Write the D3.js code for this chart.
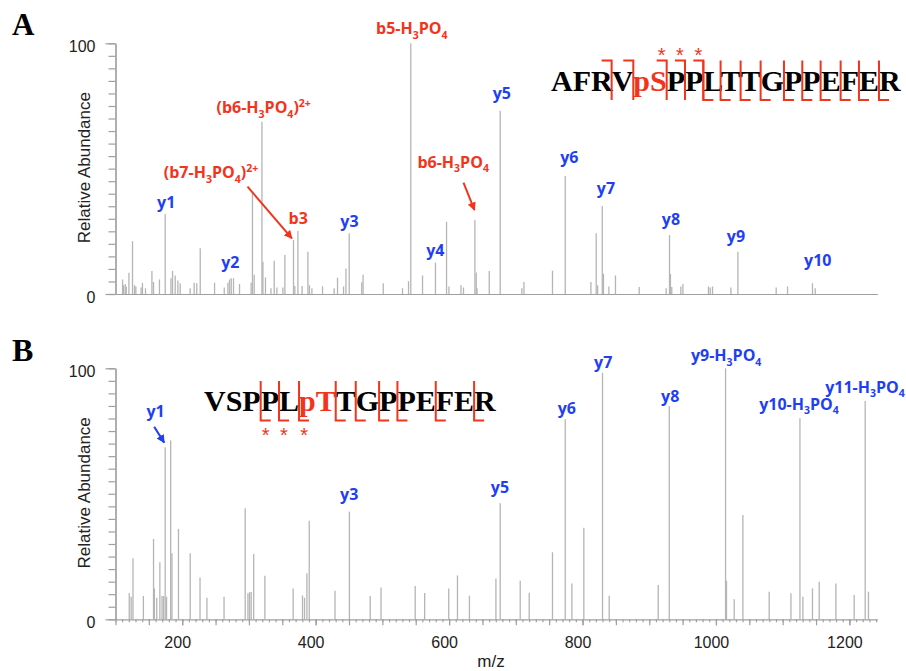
<!DOCTYPE html>
<html><head><meta charset="utf-8">
<script src="https://cdn.jsdelivr.net/npm/d3@7"></script>
<style>body{margin:0;background:#fff}svg{display:block}</style>
</head><body>
<svg id="c" width="906" height="671"></svg>
<script>
// ---------------- DATA ----------------
// Panel A: AFRVpSPPLTTGPPEFER spectrum
const mzA = [110.6,112.1,114.6,116.1,120.1,125.5,128.5,130.5,138.4,140.4,145,154.6,157,165.9,174.5,183.1,185.5,189.5,193.5,197,211.9,217.9,221.8,227,248.5,263,268.5,270.9,273.5,276.9,285.9,303.3,305.3,307.9,319.5,321,324.8,333,337.9,341.9,350.9,353.9,366.8,368.8,373.4,379.7,388.4,390.7,394.4,410.3,427.8,432.8,441.8,445.4,450.3,469.1,471.1,501.3,530.2,539.2,542.6,560.2,579.6,596.2,599.8,617.8,621.6,638.7,640.7,641.9,660.2,676.6,709.1,712.2,755,774.1,812.6,820.5,822.6,829.6,831.4,839.5,849.4,885,925.4,930.4,931.8,933.8,947.4,950.5,988.8,991.4,994.9,1022.4,1032.9,1090.3,1107.3,1144.7,1148.8];
const intA = [5.8,3.5,4.0,3.0,8.5,21.1,3.5,3.0,2.6,4.5,2.3,9.2,4.8,5.8,31.9,6.3,9.2,7.4,5.4,4.3,2.3,4.5,4.3,18.2,4.5,2.6,4.5,5.8,6.3,6.3,4.0,4.5,40.2,7.7,68.7,12.9,6.6,2.3,13.3,2.6,2.6,15.6,21.5,3.2,25.1,3.2,16.9,3.5,2.3,3.1,2.3,6.5,3.0,10.2,24.2,4.7,7.7,4.3,2.3,5.1,100,7.4,12.5,28.8,3.0,3.5,2.6,29.5,8.6,2.3,9.2,73.1,2.3,4.8,9.3,47.1,4.8,24.2,3.5,35.1,8.1,3.0,7.4,2.8,2.3,23.5,8.0,2.8,3.0,4.0,3.0,2.6,3.0,2.6,16.9,2.6,3.0,4.3,2.3];

// Panel B: VSPPLpTTGPPEFER spectrum
const mzB = [120.6,123.5,126.2,141.8,157,158.3,161.8,166.5,169.7,172,174.5,176.5,182.7,184.6,194.4,212,226.7,237,262.7,294.4,298.5,300.9,303.4,307.1,323.9,366.3,380.3,383.3,386.9,390.4,429,450.6,481.8,498,549.2,563.4,599.5,612.6,630.5,670.2,676.6,706.6,720.1,755,774.1,784.1,802,830,840,913.5,930,1014.4,1015.8,1027.4,1040.4,1079.8,1112.4,1125.9,1130.3,1144.7,1154.8,1179.8,1207.2,1223.7,1228.6];
const intB = [10.4,9.0,24.3,9.3,32,12.3,8.6,22.7,9.3,9.3,68.5,9.0,71.2,26.3,36,26.3,16.7,8.6,9.0,44.2,10.4,10.8,10.9,26,17.4,12.3,9.5,8.6,18.3,39.3,11.4,42.9,9.3,12.7,13.3,10.5,12.3,17.5,9.4,16.3,46.2,15.4,10.6,26.7,79.7,14.3,36.5,98.2,9.4,13.7,85,100,15.4,8.0,41.6,11.0,10.4,80.1,9.0,12.3,15.0,14.3,9.7,87,11.0];

// Annotations (text, ion type, label anchor m/z, label anchor intensity)
const annTextA = ["b5-H_3PO_4","(b6-H_3PO_4)^2+","(b7-H_3PO_4)^2+","b3","b6-H_3PO_4","y1","y2","y3","y4","y5","y6","y7","y8","y9","y10"];
const annTypeA = ["b","b","b","b","b","y","y","y","y","y","y","y","y","y","y"];
const annMzA   = [544.1,322.1,243.2,373.8,606.1,176,272,450.6,579.5,679.1,780.3,835.2,932.6,1030,1152.6];
const annIntA  = [103.7,72,46.1,27.9,50.3,34.3,10.2,26.7,15.2,77.8,52.3,39.7,27.5,20.9,11.0];
const arrowTypeA = ["b","b"];
const arrowFromMzA = [297.9,621.6], arrowFromIntA = [42.8,44.4];
const arrowToMzA   = [364.4,638.1], arrowToIntA   = [22.2,33.5];

const annTextB = ["y1","y3","y5","y6","y7","y8","y9-H_3PO_4","y10-H_3PO_4","y11-H_3PO_4"];
const annTypeB = ["y","y","y","y","y","y","y","y","y"];
const annMzB   = [160,450.3,676.3,776.6,831,931.4,1015.3,1124.5,1223.4];
const annIntB  = [80.4,47.5,50.3,81.8,100.1,86.6,102.9,83.4,90.2];
const arrowTypeB = ["y"];
const arrowFromMzB = [158], arrowFromIntB = [76.7];
const arrowToMzB   = [173], arrowToIntB   = [70.4];

// Peptide sequences and fragment cuts (number of residues before the cut)
const seqA = ["A","F","R","V","pS","P","P","L","T","T","G","P","P","E","F","E","R"];
const modA = [4];
const bCutsA = [3,4,5,6,7];
const bStarA = [5,6,7];
const yCutsA = [7,8,9,10,11,12,13,14,15,16];
const yStarA = [];
const seqB = ["V","S","P","P","L","pT","T","G","P","P","E","F","E","R"];
const modB = [5];
const bCutsB = [];
const bStarB = [];
const yCutsB = [3,4,5,6,7,8,9,11,13];
const yStarB = [3,4,5];

const xTicksB = [200,400,600,800,1000,1200];
const yTickLabels = [0,100];

// ---------------- DRAWING ----------------
const RED = "#f2341c", BLUE = "#1f3ff2", PEAK = "#b5b5b5", AXIS = "#a0a0a0";
const SANS = "'Liberation Sans', Arial, sans-serif";
const LAB = "'Open Sans', sans-serif";
const SERIF = "'Liberation Serif', 'Times New Roman', serif";
const LS = 16;
const svg = d3.select("#c");

const x = d3.scaleLinear().domain([100, 1242]).range([115.5, 877.4]);
const yA = d3.scaleLinear().domain([0, 100]).range([294, 43.3]);
const yB = d3.scaleLinear().domain([0, 100]).range([619.3, 368.3]);

svg.append("defs").selectAll("marker").data([["b",RED],["y",BLUE]]).join("marker")
  .attr("id", d => "ah-" + d[0]).attr("viewBox", "0 0 10 10").attr("refX", 9).attr("refY", 5)
  .attr("markerWidth", 4.2).attr("markerHeight", 4.2).attr("orient", "auto")
  .append("path").attr("d", "M0,0 L10,5 L0,10 z").attr("fill", d => d[1]);

function rich(textSel, str, size) {
  const re = /_(\d)|\^(.+)$/g;
  let last = 0, m; const parts = [];
  while ((m = re.exec(str))) {
    if (m.index > last) parts.push({t: str.slice(last, m.index), k: "n"});
    parts.push(m[1] ? {t: m[1], k: "sub"} : {t: m[2], k: "sup"});
    last = re.lastIndex;
  }
  if (last < str.length) parts.push({t: str.slice(last), k: "n"});
  let cur = 0;
  parts.forEach(p => {
    const target = p.k === "sub" ? 0.28 : p.k === "sup" ? -0.42 : 0;
    const ts = textSel.append("tspan").text(p.t);
    const dy = (target - cur) * size;
    if (dy) ts.attr("dy", dy);
    if (p.k !== "n") ts.attr("font-size", size * 0.66);
    cur = target;
  });
}

function panel(yS, mz, inten, withXAxis) {
  const g = svg.append("g");
  g.append("g").selectAll("line").data(d3.zip(mz, inten)).join("line")
    .attr("x1", d => x(d[0])).attr("x2", d => x(d[0]))
    .attr("y1", yS(0)).attr("y2", d => yS(d[1]))
    .attr("stroke", PEAK).attr("stroke-width", 1.3);
  const ax0 = x.range()[0];
  const ym = g.append("g").attr("transform", `translate(${ax0},0)`)
    .call(d3.axisLeft(yS).tickValues(d3.range(0, 101, 5)).tickSize(7).tickSizeOuter(0).tickFormat(""));
  const yM = g.append("g").attr("transform", `translate(${ax0},0)`)
    .call(d3.axisLeft(yS).tickValues(yTickLabels).tickSize(10).tickSizeOuter(0).tickPadding(10));
  [ym, yM].forEach(s => { s.selectAll("path,line").attr("stroke", AXIS).attr("stroke-width", 1.2); });
  yM.selectAll("text").attr("font-family", SANS).attr("font-size", 16).attr("fill", "#222")
    .attr("transform", "translate(0,3)");
  const xg = g.append("g").attr("transform", `translate(0,${yS(0)})`);
  if (!withXAxis) {
    xg.call(d3.axisBottom(x).tickValues([]).tickSizeOuter(0));
  } else {
    xg.call(d3.axisBottom(x).tickValues(d3.range(100, 1241, 10)).tickSize(3).tickSizeOuter(0).tickFormat(""));
    const xg2 = g.append("g").attr("transform", `translate(0,${yS(0)})`)
      .call(d3.axisBottom(x).tickValues(d3.range(100, 1241, 50)).tickSize(6).tickSizeOuter(0).tickFormat(""));
    xg2.select("path").remove();
    const xg3 = g.append("g").attr("transform", `translate(0,${yS(0)})`)
      .call(d3.axisBottom(x).tickValues(xTicksB).tickSize(6).tickSizeOuter(0).tickPadding(11).tickFormat(d3.format("d")));
    xg3.select("path").remove();
    xg3.selectAll("line").attr("stroke", AXIS).attr("stroke-width", 1.2);
    xg3.selectAll("text").attr("font-family", SANS).attr("font-size", 16).attr("fill", "#222")
      .attr("transform", "translate(-5,0)");
    xg2.selectAll("line").attr("stroke", AXIS).attr("stroke-width", 1.2);
  }
  xg.selectAll("path,line").attr("stroke", AXIS).attr("stroke-width", 1.2);
  g.append("text").attr("transform", `translate(89.5,${(yS(0) + yS(100)) / 2 - 1}) rotate(-90)`)
    .attr("text-anchor", "middle").attr("font-family", SANS).attr("font-size", 17).attr("fill", "#222")
    .text("Relative Abundance");
  return g;
}

function annotate(g, yS, texts, types, mzs, ints, afm, afi, atm, ati, atypes) {
  texts.forEach((t, i) => {
    const el = g.append("text").attr("x", x(mzs[i])).attr("y", yS(ints[i]))
      .attr("text-anchor", "middle").attr("font-family", LAB).attr("font-weight", 700)
      .attr("font-size", LS).attr("fill", types[i] === "b" ? RED : BLUE);
    rich(el, t, LS);
  });
  afm.forEach((m, i) => {
    const c = atypes[i] === "b" ? RED : BLUE;
    g.append("line").attr("x1", x(m)).attr("y1", yS(afi[i]))
      .attr("x2", x(atm[i])).attr("y2", yS(ati[i]))
      .attr("stroke", c).attr("stroke-width", 2).attr("marker-end", `url(#ah-${atypes[i]})`);
  });
}

function sequence(x0, y0, residues, mods, bCuts, bStars, yCuts, yStars) {
  const g = svg.append("g");
  const t = g.append("text").attr("x", x0).attr("y", y0)
    .attr("font-family", SERIF).attr("font-weight", 700).attr("font-size", 30).attr("fill", "#000");
  residues.forEach((r, i) => {
    t.append("tspan").text(r).attr("fill", mods.includes(i) ? RED : "#000");
  });
  const node = t.node();
  const charCount = k => residues.slice(0, k).join("").length;
  const bx = k => x0 + node.getSubStringLength(0, charCount(k));
  const top = y0 - 30, bot = y0 + 9.5, h = 10;
  bCuts.forEach(k => {
    const xv = bx(k);
    g.append("path").attr("d", `M${xv - h},${top}H${xv}V${bot}`)
      .attr("fill", "none").attr("stroke", RED).attr("stroke-width", 2);
    if (bStars.includes(k)) g.append("text").attr("x", xv - h / 2).attr("y", top + 1)
      .attr("text-anchor", "middle").attr("font-family", SANS).attr("font-size", 20).attr("fill", RED).text("*");
  });
  yCuts.forEach(k => {
    const xv = bx(k);
    g.append("path").attr("d", `M${xv},${top}V${bot}H${xv + h}`)
      .attr("fill", "none").attr("stroke", RED).attr("stroke-width", 2);
    if (yStars.includes(k)) g.append("text").attr("x", xv + h / 2).attr("y", bot + 21)
      .attr("text-anchor", "middle").attr("font-family", SANS).attr("font-size", 20).attr("fill", RED).text("*");
  });
}

const gA = panel(yA, mzA, intA, false);
annotate(gA, yA, annTextA, annTypeA, annMzA, annIntA, arrowFromMzA, arrowFromIntA, arrowToMzA, arrowToIntA, arrowTypeA);
const gB = panel(yB, mzB, intB, true);
annotate(gB, yB, annTextB, annTypeB, annMzB, annIntB, arrowFromMzB, arrowFromIntB, arrowToMzB, arrowToIntB, arrowTypeB);

sequence(551, 90.5, seqA, modA, bCutsA, bStarA, yCutsA, yStarA);
sequence(204, 411, seqB, modB, bCutsB, bStarB, yCutsB, yStarB);

svg.append("text").attr("x", 12).attr("y", 34.5).attr("font-family", SERIF).attr("font-weight", 700)
  .attr("font-size", 31).text("A");
svg.append("text").attr("x", 12).attr("y", 361).attr("font-family", SERIF).attr("font-weight", 700)
  .attr("font-size", 32).text("B");
svg.append("text").attr("x", 491).attr("y", 667).attr("text-anchor", "middle")
  .attr("font-family", SANS).attr("font-size", 17).attr("fill", "#222").text("m/z");
</script>
</body></html>
